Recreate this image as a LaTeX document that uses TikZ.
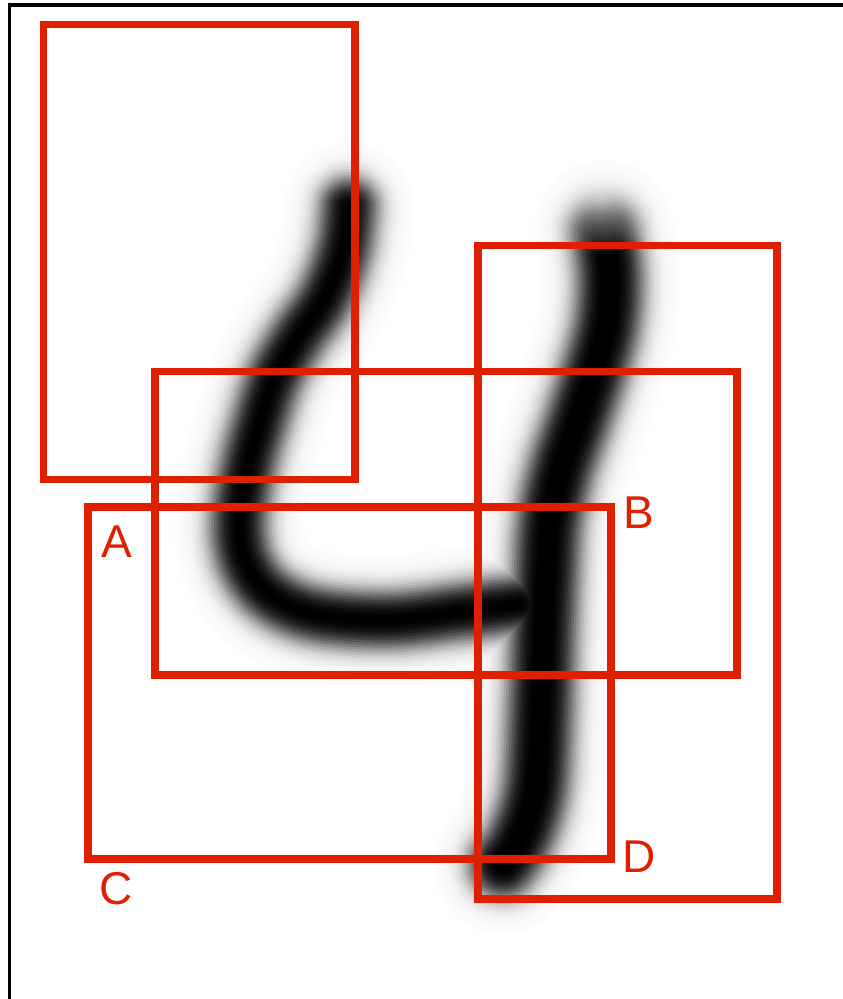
\documentclass[tikz,border=0pt]{standalone}
\usepackage{fontspec}
\setmainfont{Liberation Sans}
\usetikzlibrary{fadings}
\definecolor{boxred}{RGB}{222,32,0}
\tikzfading[name=softdot, inner color=transparent!0, outer color=transparent!100]
\begin{document}
\begin{tikzpicture}[x=1pt,y=-1pt,
  redbox/.style={draw=boxred, line width=7.7pt, line join=miter},
  lbl/.style={text=boxred, font=\fontsize{46}{46}\selectfont, inner sep=0pt},
  frame/.style={draw=black, line width=3.4pt, line cap=rect},
  ink/.style={line cap=round, line join=round}]
\useasboundingbox (0,0) rectangle (843,999);
\fill[white] (0,0) rectangle (843,999);
% frame (top and left edges visible)
\draw[frame] (9.2,999) -- (9.2,5) -- (843,5);
% blurred handwritten digit, drawn as layered strokes
\foreach \w in {130,125,...,5}{
  \pgfmathsetmacro{\c}{min(100,105/(1+exp(-1.702*(54-\w)/26)))}
  \pgfmathsetmacro{\wide}{\w+10}
  % left stroke and bowl
  \draw[ink, line width=\w pt, black!\c] plot[smooth, tension=0.6] coordinates {(349,207) (343,250) (325,297) (298,337) (275,377) (259,425) (246,475) (239,525) (247,565) (272,596) (318,615) (390,620) (460,612) (520,604)};
  % right stroke
  \draw[ink, line width=\wide pt, black!\c] plot[smooth, tension=0.6] coordinates {(604,230) (610,275) (607,322) (597,362) (578,420) (561,470) (550,520) (546,575) (543,640) (540,720) (535,790) (520,838) (503,864)};
}
% faded top tip of the right stroke
\fill[white, fill opacity=0.6, path fading=softdot] (601,200) circle (55);
% red boxes
\draw[redbox] (43.5,24.5) rectangle (355,479.5);
\draw[redbox] (155,371.5) rectangle (736.7,675);
\draw[redbox] (88,507) rectangle (611,859);
\draw[redbox] (478,245.5) rectangle (776.7,899);
% labels
\node[lbl] (A) at (116.7,542) {A};
\node[lbl] (B) at (639,513) {B};
\node[lbl] (C) at (116,889) {C};
\node[lbl] (D) at (639.5,857) {D};
\end{tikzpicture}
\end{document}
